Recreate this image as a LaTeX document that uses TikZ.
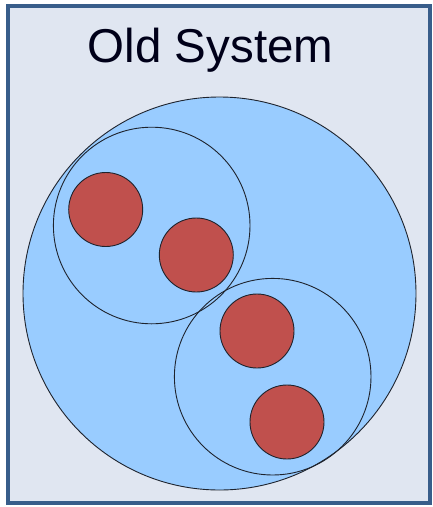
\documentclass[tikz,border=0pt]{standalone}
\usepackage{fontspec}
\setmainfont{Liberation Sans}
\definecolor{panelfill}{RGB}{224,230,241}
\definecolor{panelborder}{RGB}{56,93,138}
\definecolor{bluefill}{RGB}{153,204,255}
\definecolor{redfill}{RGB}{192,80,77}
\definecolor{outline}{RGB}{30,35,45}
\begin{document}
\begin{tikzpicture}[x=1pt,y=-1pt,
  panel/.style={draw=panelborder,fill=panelfill,line width=4pt},
  bigcirc/.style={circle,draw=outline,fill=bluefill,line width=0.9pt,inner sep=0pt},
  redcirc/.style={circle,draw=outline,fill=redfill,line width=0.9pt,inner sep=0pt,minimum size=74pt},
  groupcirc/.style={circle,draw=outline,line width=0.9pt,inner sep=0pt,minimum size=196.6pt},
  title/.style={text=black!90!blue,font=\fontsize{47.5}{52}\selectfont,inner sep=0pt}
]
\useasboundingbox (0,0) rectangle (433,507);
\draw[panel] (8,6) rectangle (430,503);
\node[title,anchor=base] (title) at (210.5,62) {Old System};
\node[bigcirc,minimum size=393pt] (system) at (219.5,293.5) {};
\node[groupcirc] (groupA) at (151.7,225.5) {};
\node[groupcirc] (groupB) at (272.7,376.7) {};
\node[redcirc] (r1) at (105.7,209.5) {};
\node[redcirc] (r2) at (196.3,255) {};
\node[redcirc] (r3) at (257,331) {};
\node[redcirc] (r4) at (287,422) {};
\end{tikzpicture}
\end{document}
